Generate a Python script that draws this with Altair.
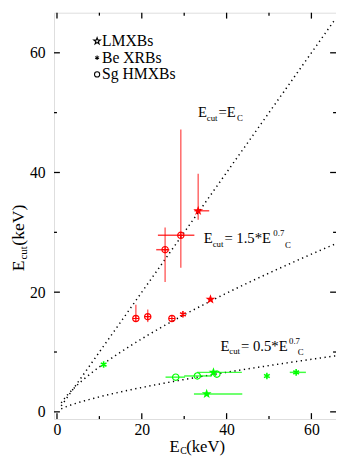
import math
import altair as alt
import pandas as pd

FONT = "'Liberation Serif', 'Times New Roman', Times, serif"
RED = "#ff0000"
GREEN = "#00ff00"

# ---------------- data ----------------
# Red points
red_cls = ["Sg", "Sg", "Sg", "Sg", "Sg", "Be", "LMXB", "LMXB"]
red_x = [18.6, 21.4, 27.1, 25.5, 29.2, 29.7, 36.2, 33.3]
red_y = [15.6, 15.9, 15.6, 27.1, 29.5, 16.3, 18.8, 33.6]
red_xlo = [18.6, 21.4, 27.1, 23.4, 23.8, 29.7, 36.2, 32.4]
red_xhi = [18.6, 21.4, 27.1, 26.5, 32.4, 29.7, 36.2, 35.9]
red_ylo = [15.6, 15.0, 15.6, 21.7, 24.1, 16.3, 18.8, 32.1]
red_yhi = [17.9, 17.1, 15.6, 30.8, 47.2, 16.3, 18.8, 39.8]

# Green points
green_cls = ["Be", "Be", "Be", "Sg", "Sg", "Sg", "LMXB", "LMXB"]
green_x = [11.0, 49.5, 56.4, 28.0, 33.1, 37.7, 36.9, 35.3]
green_y = [7.9, 6.0, 6.6, 5.8, 6.0, 6.3, 6.6, 3.0]
green_xlo = [11.0, 49.5, 54.9, 25.6, 30.0, 37.7, 33.0, 32.3]
green_xhi = [11.0, 49.5, 58.7, 30.2, 36.5, 37.7, 43.6, 43.7]

major_ticks = [0, 20, 40, 60]
minor_ticks = [10, 30, 50]

legend_labels = ["LMXBs", "Be XRBs", "Sg HMXBs"]

# ---------------- table ----------------
rows = []
for i in range(len(red_x)):
    rows.append(dict(cls=red_cls[i], grp="red", x=red_x[i], y=red_y[i],
                     xlo=red_xlo[i], xhi=red_xhi[i], ylo=red_ylo[i], yhi=red_yhi[i]))
for i in range(len(green_x)):
    rows.append(dict(cls=green_cls[i], grp="green", x=green_x[i], y=green_y[i],
                     xlo=green_xlo[i], xhi=green_xhi[i], ylo=green_y[i], yhi=green_y[i]))
df = pd.DataFrame(rows)

# ---------------- shapes ----------------
def star_path(r_in=0.4):
    pts = []
    for k in range(10):
        ang = math.radians(-90 + 36 * k)
        r = 1.0 if k % 2 == 0 else r_in
        pts.append((r * math.cos(ang), r * math.sin(ang)))
    return "M" + "L".join(f"{px:.3f},{py:.3f}" for px, py in pts) + "Z"

STAR = star_path()
AST = "M0,-1L0,1M-0.87,-0.5L0.87,0.5M-0.87,0.5L0.87,-0.5"
CIRC = "M-1,0A1,1 0 1,0 1,0A1,1 0 1,0 -1,0Z"
CIRC_PLUS = CIRC + "M-1,0L1,0M0,-1L0,1"

# ---------------- layout ----------------
W, H = 288, 415
OX, OY = 55, 8  # page position of plot origin
XS = alt.Scale(domain=[-0.7, 65.8], nice=False, zero=False)
YS = alt.Scale(domain=[-1.2, 66.7], nice=False, zero=False)
XAX = alt.Axis(values=major_ticks, ticks=False, domain=False, grid=False, title=None,
               labelFont=FONT, labelFontSize=16, labelPadding=3, labelColor="black")
YAX = alt.Axis(values=major_ticks, ticks=False, domain=False, grid=False, title=None,
               labelFont=FONT, labelFontSize=16, labelPadding=9, labelColor="black")

def X(f):
    return alt.X(f, type="quantitative", scale=XS, axis=XAX)

def Y(f):
    return alt.Y(f, type="quantitative", scale=YS, axis=YAX)

base = alt.Chart(df)
color = alt.Color("grp:N", scale=alt.Scale(domain=["red", "green"], range=[RED, GREEN]), legend=None)

xerr = base.mark_rule(strokeWidth=1.5, opacity=0.75).encode(
    x=X("xlo"), x2="xhi", y=Y("y"), color=color)
yerr = base.mark_rule(strokeWidth=1.5, opacity=0.6).encode(
    x=X("x"), y=Y("ylo"), y2="yhi", color=color)

stars = base.transform_filter("datum.cls == 'LMXB'").mark_point(
    shape=STAR, filled=True, size=110, opacity=1).encode(x=X("x"), y=Y("y"), color=color)
asts = base.transform_filter("datum.cls == 'Be'").mark_point(
    shape=AST, filled=False, size=45, strokeWidth=1.6, opacity=1).encode(x=X("x"), y=Y("y"), color=color)
circ_red = base.transform_filter("datum.cls == 'Sg' && datum.grp == 'red'").mark_point(
    shape=CIRC_PLUS, filled=False, size=42, strokeWidth=1.2, opacity=1).encode(x=X("x"), y=Y("y"), color=color)
circ_green = base.transform_filter("datum.cls == 'Sg' && datum.grp == 'green'").mark_point(
    shape=CIRC, filled=False, size=42, strokeWidth=1.2, opacity=1).encode(x=X("x"), y=Y("y"), color=color)

# model curves (formulas shown on the chart)
def curve(expr):
    return alt.Chart(alt.sequence(1, 66, 0.25, as_="x")).transform_calculate(
        y=expr).mark_line(color="black", strokeDash=[1.3, 3.6], strokeWidth=1.5, clip=True).encode(
        x=X("x"), y=Y("y"))

c1 = curve("datum.x")
c2 = curve("1.5*pow(datum.x, 0.7)")
c3 = curve("0.5*pow(datum.x, 0.7)")

# frame ticks (inward)
maj = pd.DataFrame({"v": major_ticks})
mnr = pd.DataFrame({"v": minor_ticks})

def xticks(d, ln):
    b = alt.Chart(d).mark_rule(color="black", strokeWidth=1.3)
    return [b.encode(x=X("v"), y=alt.value(H), y2=alt.value(H - ln)),
            b.encode(x=X("v"), y=alt.value(0), y2=alt.value(ln))]

def yticks(d, ln):
    b = alt.Chart(d).mark_rule(color="black", strokeWidth=1.3)
    return [b.encode(y=Y("v"), x=alt.value(0), x2=alt.value(ln)),
            b.encode(y=Y("v"), x=alt.value(W), x2=alt.value(W - ln))]

ticks = xticks(maj, 6) + xticks(mnr, 3) + yticks(maj, 6) + yticks(mnr, 3)

# text helper (page coordinates)
ONE = alt.Data(values=[{"a": 1}])

def txt(s, x, y, size, baseline="alphabetic", angle=0):
    kw = dict(text=s, font=FONT, fontSize=size, align="left", baseline=baseline, color="black")
    if angle:
        kw["angle"] = angle
    return alt.Chart(ONE).mark_text(**kw).encode(x=alt.value(x - OX), y=alt.value(y - OY))

def sym(shape, x, y, size, filled=False, sw=1.1):
    return alt.Chart(ONE).mark_point(shape=shape, filled=filled, size=size, color="black",
                                     strokeWidth=sw, opacity=1).encode(
        x=alt.value(x - OX), y=alt.value(y - OY))

texts = [
    # legend
    sym(STAR, 99, 37, 50), txt(legend_labels[0], 104, 37, 16, "middle"),
    sym(AST, 99, 54, 22), txt(legend_labels[1], 104, 54, 16, "middle"),
    sym(CIRC, 99, 71, 28), txt(legend_labels[2], 104, 71, 16, "middle"),
    # E_cut = E_C
    txt("E", 202, 115, 15), txt("cut", 211, 119, 9), txt("=E", 223, 115, 15), txt("C", 242, 119, 9),
    # E_cut = 1.5*E^0.7_C
    txt("E", 208, 243, 15), txt("cut", 217, 247, 9), txt(" = 1.5*E", 229, 243, 15),
    txt("0.7", 279, 236, 9), txt("C", 291, 248, 9),
    # E_cut = 0.5*E^0.7_C
    txt("E", 225, 353, 15), txt("cut", 234, 357, 9), txt("= 0.5*E", 246, 353, 15),
    txt("0.7", 295, 346, 9), txt("C", 304, 358, 9),
    # x title
    txt("E", 173, 457, 17), txt("C", 184, 459, 10), txt("(keV)", 190, 457, 17),
    # y title (rotated)
    txt("E", 24, 272, 18, angle=270), txt("cut", 27, 260, 11, angle=270),
    txt("(keV)", 24, 246, 18, angle=270),
]

chart = alt.layer(
    c1, c2, c3, xerr, yerr, stars, asts, circ_red, circ_green, *ticks, *texts
).properties(
    width=W, height=H,
    autosize=alt.AutoSizeParams(type="none"),
    padding={"left": OX - 8, "top": OY - 8, "right": 0, "bottom": 36},
).configure_view(stroke="black", strokeWidth=1.5).configure(background="white")

chart.save("out.html", embed_options={"renderer": "svg", "actions": False})
